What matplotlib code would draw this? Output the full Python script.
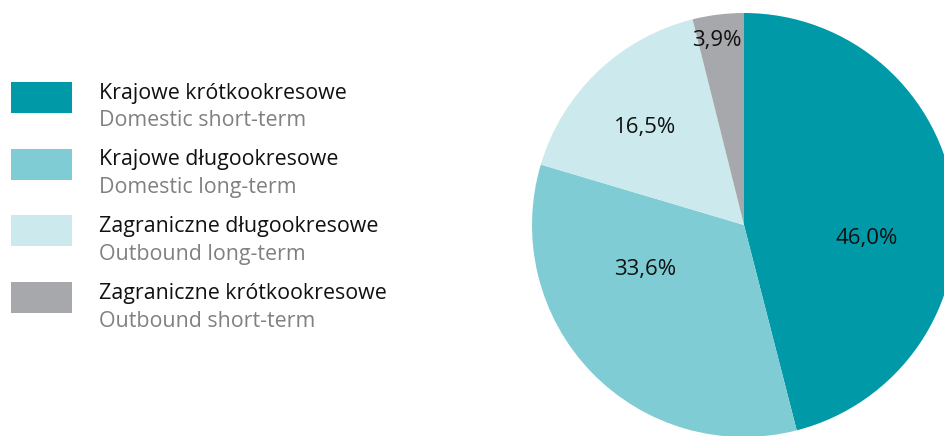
import matplotlib.pyplot as plt
from matplotlib.patches import Rectangle

# Travel structure by trip type
labels_pl = ['Krajowe krótkookresowe', 'Krajowe długookresowe',
             'Zagraniczne długookresowe', 'Zagraniczne krótkookresowe']
labels_en = ['Domestic short-term', 'Domestic long-term',
             'Outbound long-term', 'Outbound short-term']
shares = [46.0, 33.6, 16.5, 3.9]
colors = ['#0099a8', '#80ccd4', '#cceaee', '#a7a8ac']

# where each percentage label sits (pixel coords, y from bottom)
label_pos = [(867, 197), (645, 166), (645, 308), (717, 395)]

plt.rcParams['font.family'] = ['Open Sans', 'DejaVu Sans']

fig = plt.figure(figsize=(9.44, 4.36), dpi=100)
ax = fig.add_axes([0, 0, 1, 1])

ax.pie(shares, colors=colors, startangle=90, counterclock=False,
       center=(744, 211), radius=212, frame=True,
       wedgeprops={'linewidth': 0})
ax.set_xlim(0, 944)
ax.set_ylim(0, 436)
ax.set_aspect('equal')
ax.axis('off')

for val, (x, y) in zip(shares, label_pos):
    ax.text(x, y, f'{val:.1f}'.replace('.', ',') + '%', ha='center', va='center',
            fontsize=16, color='#111111')

# legend drawn by hand: colour box + Polish name + English name
for i, (pl, en, c) in enumerate(zip(labels_pl, labels_en, colors)):
    top = 436 - (82 + i * 66.7)
    ax.add_patch(Rectangle((11, top - 31), 61, 31, facecolor=c, edgecolor='none'))
    ax.text(99, top - 11, pl, ha='left', va='center', fontsize=15.4, color='#111111')
    ax.text(99, top - 39, en, ha='left', va='center', fontsize=15.4, color='#808080')

fig.savefig('out.png', dpi=100)
